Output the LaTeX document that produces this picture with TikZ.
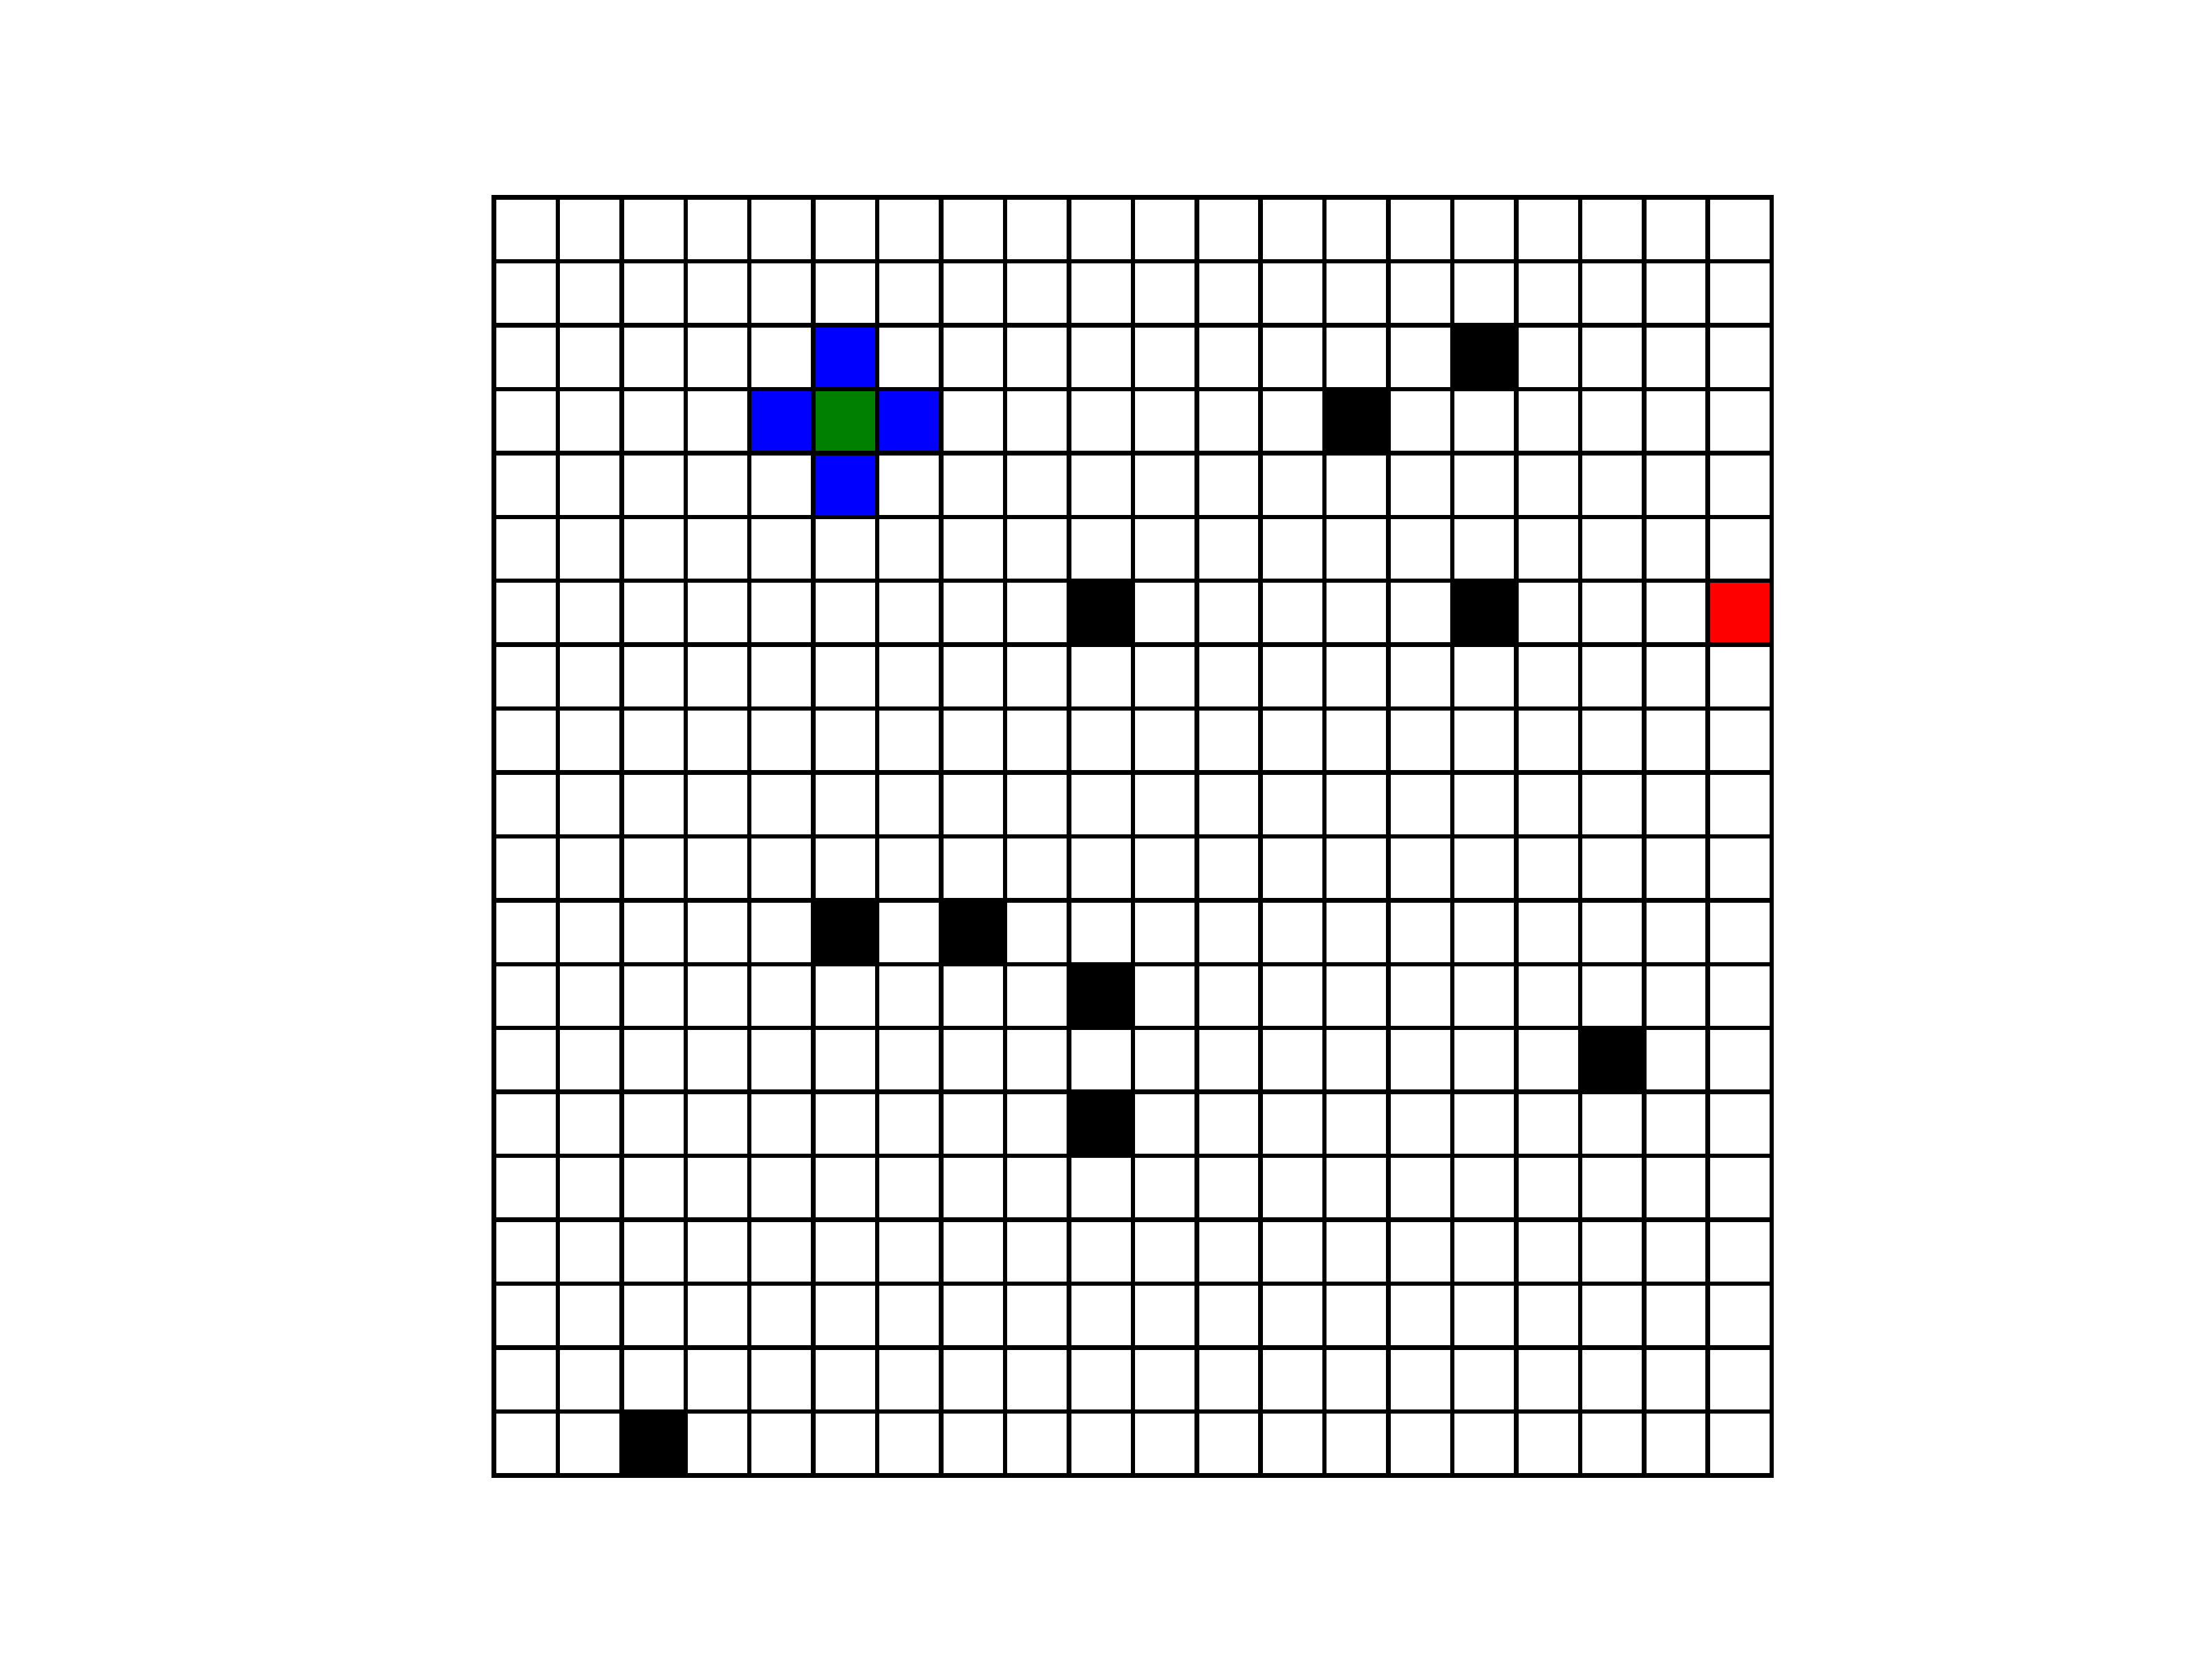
\documentclass[tikz,border=0pt]{standalone}
\usepackage{xcolor}
\usepackage{tikz}

\definecolor{startgreen}{RGB}{0,128,0}

\begin{document}
\begin{tikzpicture}[
    cell/.style={draw=black, line width=2pt, fill=white},
    wall/.style={cell, fill=black},
    nbr/.style={cell, fill=blue},
    agent/.style={cell, fill=startgreen},
    goal/.style={cell, fill=red}
]
\useasboundingbox (-7.73,-2.87) rectangle (26.89,23.09);

% empty grid, row 0 at the top
\foreach \c in {0,...,19}
  \foreach \r in {0,...,19}
    \draw [cell] (\c,19-\r) rectangle ++(1,1);

% obstacles
\foreach \c/\r in {15/2, 13/3, 9/6, 15/6, 5/11, 7/11, 9/12, 17/13, 9/14, 2/19}
  \draw [wall] (\c,19-\r) rectangle ++(1,1);

% neighbours of the agent
\foreach \c/\r in {5/2, 4/3, 6/3, 5/4}
  \draw [nbr] (\c,19-\r) rectangle ++(1,1);

\draw [agent] (5,16) rectangle ++(1,1);
\draw [goal] (19,13) rectangle ++(1,1);

\end{tikzpicture}
\end{document}
